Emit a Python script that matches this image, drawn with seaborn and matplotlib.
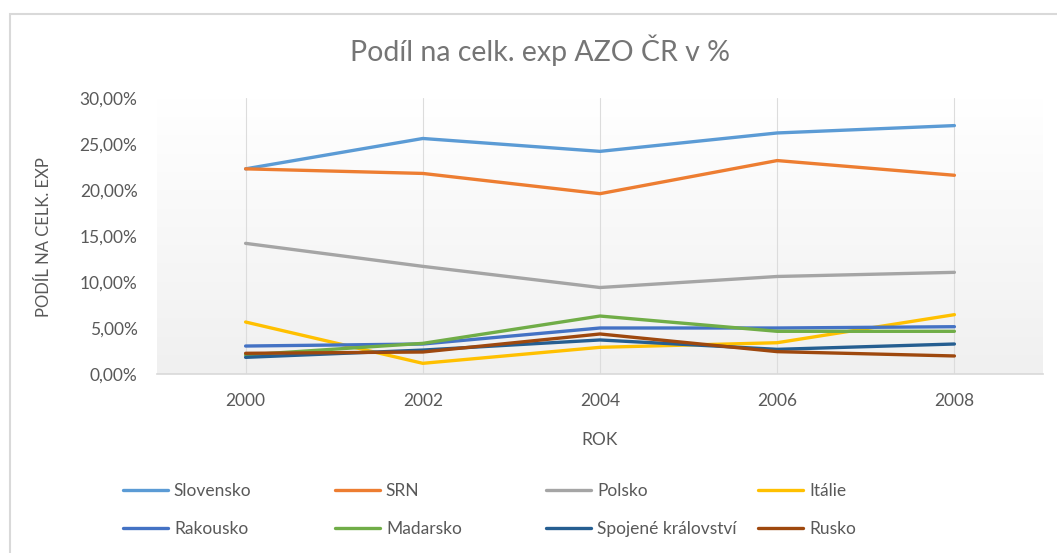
import numpy as np
import pandas as pd
import matplotlib
matplotlib.use("Agg")
import matplotlib.pyplot as plt
import seaborn as sns
from matplotlib.patches import Rectangle
from matplotlib.ticker import FuncFormatter

# ==========================================================
# DATA (share of total export, %)
# ==========================================================
years = [2000, 2002, 2004, 2006, 2008]

slovensko = [22.3, 25.6, 24.2, 26.2, 27.0]
srn = [22.3, 21.8, 19.6, 23.2, 21.6]
polsko = [14.2, 11.7, 9.4, 10.6, 11.05]
italie = [5.65, 1.16, 2.9, 3.4, 6.45]
rakousko = [3.04, 3.26, 5.0, 5.0, 5.14]
madarsko = [2.07, 3.33, 6.3, 4.64, 4.64]
spojene = [1.81, 2.6, 3.7, 2.68, 3.26]
rusko = [2.25, 2.39, 4.35, 2.43, 1.96]

countries = ["Slovensko", "SRN", "Polsko", "Itálie",
             "Rakousko", "Madarsko", "Spojené království", "Rusko"]
colors = ["#5B9BD5", "#ED7D31", "#A5A5A5", "#FFC000",
          "#4472C4", "#70AD47", "#255E91", "#9E480E"]

series = [slovensko, srn, polsko, italie, rakousko, madarsko, spojene, rusko]

df = pd.DataFrame({
    "rok": years * len(countries),
    "podil": np.concatenate(series),
    "zeme": np.repeat(countries, len(years)),
})

# ==========================================================
# PLOT
# ==========================================================
sns.set_theme(style="white")
plt.rcParams["font.family"] = ["Lato", "DejaVu Sans"]
text_col = "#595959"

fig = plt.figure(figsize=(10.57, 5.53), dpi=100)
ax = fig.add_axes([157 / 1057, 1 - 374 / 553, 886 / 1057, 276 / 553])

# gradient plot background
grad = np.linspace(1.0, 0.0, 256).reshape(-1, 1)
ax.imshow(grad, cmap=matplotlib.colors.LinearSegmentedColormap.from_list(
    "bg", ["#f0f0f0", "#ffffff"]), extent=[0, 1, 0, 1],
    transform=ax.transAxes, aspect="auto", zorder=0)

sns.lineplot(data=df, x="rok", y="podil", hue="zeme", hue_order=countries,
             palette=colors, linewidth=2.4, ax=ax, legend=True, zorder=3)

ax.set_xlim(1999, 2009)
ax.set_ylim(0, 30)
ax.set_xticks(years)
ax.set_yticks(np.arange(0, 31, 5))
ax.yaxis.set_major_formatter(
    FuncFormatter(lambda v, p: f"{v:.2f}".replace(".", ",") + "%"))
ax.tick_params(axis="both", length=0, labelsize=12.5, colors=text_col)
ax.tick_params(axis="x", pad=14)
ax.tick_params(axis="y", pad=14)

for x in years:
    ax.axvline(x, color="#dcdcdc", lw=0.8, zorder=1)

for s in ["top", "right", "left"]:
    ax.spines[s].set_visible(False)
ax.spines["bottom"].set_color("#d9d9d9")
ax.spines["bottom"].set_linewidth(1.2)

ax.set_xlabel("ROK", fontsize=12.5, color=text_col)
ax.set_ylabel("PODÍL NA CELK. EXP", fontsize=12, color=text_col)
ax.xaxis.set_label_coords(0.5, -0.21)
ax.yaxis.set_label_coords(-0.118, 0.496)

fig.text(540 / 1057, 1 - 50 / 553, "Podíl na celk. exp AZO ČR v %",
         ha="center", va="center", fontsize=20.5, color="#757575")

# legend in 4 fixed columns
handles, labels = ax.get_legend_handles_labels()
ax.get_legend().remove()
col_x = [114, 326, 537, 749]
for i, cx in enumerate(col_x):
    idx = [i, i + 4]
    leg = fig.legend([handles[j] for j in idx], [labels[j] for j in idx],
                     loc="center left", bbox_to_anchor=(cx / 1057, 1 - 510 / 553),
                     frameon=False, fontsize=12.5, handlelength=2.6,
                     handletextpad=0.35, labelspacing=1.22, borderpad=0,
                     labelcolor=text_col)
    for line in leg.get_lines():
        line.set_linewidth(2.4)

# chart border
fig.add_artist(Rectangle((10 / 1057, -0.05), 1.2, 1 - 14 / 553 + 0.05,
                         transform=fig.transFigure, fill=False,
                         edgecolor="#d9d9d9", lw=1.5))

plt.savefig("out.png", dpi=100)
